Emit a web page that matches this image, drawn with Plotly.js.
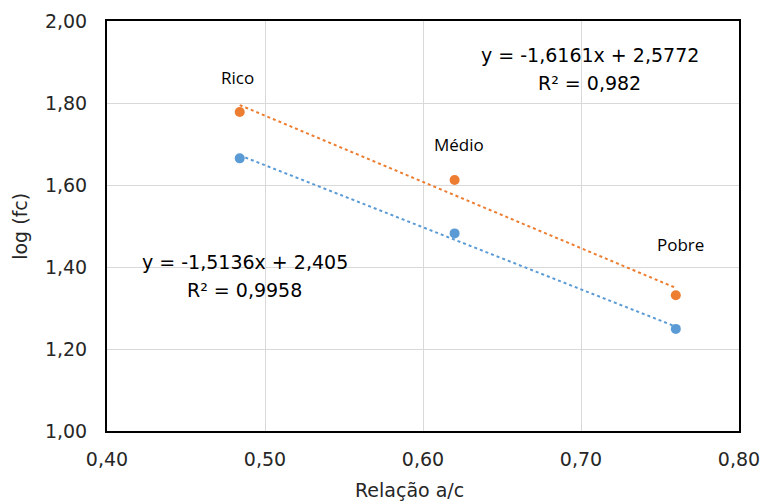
<!DOCTYPE html>
<html>
<head>
<meta charset="utf-8">
<script src="https://cdn.plot.ly/plotly-3.0.1.min.js"></script>
<style>html,body{margin:0;padding:0;background:#fff;}#chart{width:764px;height:504px;}</style>
</head>
<body>
<div id="chart"></div>
<script>
// Data
const ratio = [0.484, 0.620, 0.760];              // Relação a/c
const logFcBlue = [1.665, 1.482, 1.249];
const logFcOrange = [1.778, 1.612, 1.331];
const pointLabels = ['Rico', 'Médio', 'Pobre'];
// Trendline coefficients shown on the chart
const blueSlope = -1.5136, blueIntercept = 2.405;
const orangeSlope = -1.6161, orangeIntercept = 2.5772;
const blueEq = ['y = -1,5136x + 2,405', 'R² = 0,9958'];
const orangeEq = ['y = -1,6161x + 2,5772', 'R² = 0,982'];
const xTicks = [0.40, 0.50, 0.60, 0.70, 0.80];
const xTickText = ['0,40', '0,50', '0,60', '0,70', '0,80'];
const yTicks = [1.00, 1.20, 1.40, 1.60, 1.80, 2.00];
const yTickText = ['1,00', '1,20', '1,40', '1,60', '1,80', '2,00'];
const xTitle = 'Relação a/c';
const yTitle = 'log (fc)';

const blueColor = '#5B9BD5', orangeColor = '#ED7D31';
const mainFont = 'DejaVu Sans';
const labelFont = 'Open Sans';
const textColor = '#262626';

const trendX = [ratio[0], ratio[ratio.length - 1]];
const traces = [
  {x: trendX, y: trendX.map(v => blueSlope * v + blueIntercept), mode: 'lines',
   line: {color: blueColor, width: 2, dash: 'dot'}, hoverinfo: 'skip'},
  {x: trendX, y: trendX.map(v => orangeSlope * v + orangeIntercept), mode: 'lines',
   line: {color: orangeColor, width: 2, dash: 'dot'}, hoverinfo: 'skip'},
  {x: ratio, y: logFcBlue, mode: 'markers', marker: {color: blueColor, size: 10}},
  {x: ratio, y: logFcOrange, mode: 'markers', marker: {color: orangeColor, size: 10}}
];

// label positions (data coordinates)
const labelPos = [[0.4829, 1.861], [0.6228, 1.698], [0.7627, 1.456]];
const annotations = pointLabels.map((t, i) => ({
  x: labelPos[i][0], y: labelPos[i][1], xref: 'x', yref: 'y', text: t, showarrow: false,
  xanchor: 'center', yanchor: 'middle',
  font: {family: labelFont, size: 17, color: '#000'}
}));
const eqFont = {family: mainFont, size: 19, color: '#000'};
const eqAnn = (x, y, t) => ({x: x, y: y, xref: 'x', yref: 'y', text: t, showarrow: false,
  xanchor: 'center', yanchor: 'middle', font: eqFont});
annotations.push(
  eqAnn(0.7055, 1.917, orangeEq[0]),
  eqAnn(0.7055, 1.849, orangeEq[1]),
  eqAnn(0.4873, 1.412, blueEq[0]),
  eqAnn(0.4873, 1.344, blueEq[1]),
  // axis titles
  {x: 0.479, y: -0.144, xref: 'paper', yref: 'paper', text: xTitle, showarrow: false,
   xanchor: 'center', yanchor: 'middle',
   font: {family: mainFont, size: 19, color: textColor}},
  {x: -0.138, y: 0.5, xref: 'paper', yref: 'paper', text: yTitle, showarrow: false, textangle: -90,
   xanchor: 'center', yanchor: 'middle',
   font: {family: mainFont, size: 19, color: textColor}}
);

const layout = {
  width: 764, height: 504,
  margin: {l: 107, r: 25, t: 21, b: 73},
  paper_bgcolor: '#fff', plot_bgcolor: '#fff',
  showlegend: false,
  font: {family: mainFont, color: textColor},
  xaxis: {
    range: [0.40, 0.80], tickvals: xTicks, ticktext: xTickText,
    showgrid: true, gridcolor: '#d9d9d9', gridwidth: 1,
    showline: true, linecolor: '#000', linewidth: 2, mirror: true,
    zeroline: false, ticks: '', ticklabelstandoff: 10,
    tickfont: {family: mainFont, size: 19, color: textColor}
  },
  yaxis: {
    range: [1.00, 2.00], tickvals: yTicks, ticktext: yTickText,
    showgrid: true, gridcolor: '#d9d9d9', gridwidth: 1,
    showline: true, linecolor: '#000', linewidth: 2, mirror: true,
    zeroline: false, ticks: '', ticklabelstandoff: 14,
    tickfont: {family: mainFont, size: 19, color: textColor}
  },
  annotations: annotations
};

Plotly.newPlot('chart', traces, layout, {displayModeBar: false, staticPlot: true});
</script>
</body>
</html>
